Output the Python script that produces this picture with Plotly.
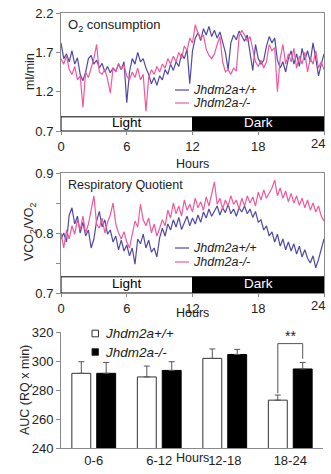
import plotly.graph_objects as go

W, H = 331, 474
FONT = "Liberation Sans, Arial, Helvetica, sans-serif"
TXT = "#222222"
AX = "#8a8a8a"
BLUE = "#5049a4"
PINK = "#ef5a9d"

# ---------------- data ----------------
hours = [i * 0.25 for i in range(97)]  # sampling grid, 0..24 h

o2_wt = [1.82, 1.62, 1.68, 1.58,
         1.72, 1.55, 1.63, 1.42,
         1.34, 1.45, 1.62, 1.66,
         1.55, 1.60, 1.50, 1.56,
         1.45, 1.52, 1.44, 1.50,
         1.46, 1.55, 1.48, 1.58,
         1.06, 1.45, 1.62, 1.55,
         1.70, 1.58, 1.62, 1.50,
         1.42, 1.30, 1.38, 1.28,
         1.40, 1.35, 1.48, 1.42,
         1.55, 1.47, 1.58, 1.52,
         1.68, 1.62, 1.74, 1.30,
         1.72, 1.88, 1.95, 1.85,
         2.00, 1.92, 2.03, 1.90,
         1.98, 1.88, 1.96, 1.84,
         1.70, 1.48, 1.82, 1.92,
         1.86, 1.97, 1.90, 1.84,
         1.92, 1.72, 1.47, 1.80,
         1.62, 1.55, 1.60, 1.78,
         1.90, 1.82, 1.88, 1.60,
         1.50, 1.58, 1.45, 1.62,
         1.72, 1.55, 1.68, 1.52,
         1.75, 1.60, 1.72, 1.58,
         1.82, 1.62, 1.40, 1.55,
         1.68]

o2_ko = [1.62, 1.55, 1.66, 1.48,
         1.42, 1.52, 1.35, 1.40,
         1.00, 1.45, 1.38, 1.50,
         1.62, 1.80, 1.45, 1.42,
         1.48, 1.36, 1.18, 1.50,
         1.45, 1.56, 1.48, 1.54,
         1.40, 1.35, 1.45, 1.38,
         1.50, 1.35, 1.42, 0.95,
         1.38, 1.48, 1.42, 1.52,
         1.45, 1.55, 1.50, 1.62,
         1.55, 1.65, 1.58, 1.70,
         1.62, 1.78, 1.72, 1.88,
         1.82, 2.05, 1.95, 1.88,
         1.92, 1.74, 1.66, 1.62,
         1.68, 1.80, 1.90, 1.58,
         1.45, 1.48, 1.42, 1.50,
         1.46, 1.90, 1.98, 1.92,
         1.84, 1.90, 1.75, 1.58,
         1.52, 1.60, 1.50, 1.58,
         1.80, 1.72, 1.76, 1.20,
         1.62, 1.80, 1.55, 1.68,
         1.58, 1.75, 1.50, 1.65,
         1.55, 1.70, 1.45, 1.62,
         1.55, 1.72, 1.50, 1.58,
         1.48]

rq_wt = [0.790, 0.800, 0.785, 0.830,
         0.842, 0.815, 0.828, 0.800,
         0.818, 0.795, 0.805, 0.775,
         0.790, 0.820, 0.836, 0.810,
         0.822, 0.798, 0.805, 0.785,
         0.795, 0.772, 0.788, 0.770,
         0.780, 0.762, 0.775, 0.748,
         0.790, 0.782, 0.798, 0.775,
         0.788, 0.768, 0.775, 0.760,
         0.792, 0.808, 0.795, 0.815,
         0.805, 0.822, 0.810, 0.826,
         0.806, 0.818, 0.828, 0.812,
         0.825, 0.815, 0.830, 0.818,
         0.835, 0.825, 0.840, 0.828,
         0.836, 0.845, 0.830, 0.842,
         0.834, 0.848, 0.832, 0.840,
         0.828, 0.842, 0.835, 0.845,
         0.832, 0.840, 0.826, 0.836,
         0.818, 0.822, 0.805, 0.812,
         0.795, 0.802, 0.785, 0.798,
         0.778, 0.790, 0.772, 0.785,
         0.770, 0.782, 0.765, 0.778,
         0.760, 0.772, 0.758, 0.750,
         0.762, 0.742, 0.756, 0.775,
         0.790]

rq_ko = [0.800, 0.775, 0.805, 0.790,
         0.812, 0.798, 0.822, 0.805,
         0.828, 0.800, 0.815, 0.840,
         0.862, 0.815, 0.808, 0.825,
         0.800, 0.818, 0.830, 0.850,
         0.815, 0.800, 0.790, 0.802,
         0.785, 0.775, 0.795, 0.820,
         0.810, 0.848, 0.822, 0.812,
         0.825, 0.800, 0.815, 0.795,
         0.808, 0.822, 0.812, 0.838,
         0.825, 0.850, 0.832, 0.845,
         0.828, 0.855, 0.838, 0.848,
         0.835, 0.858, 0.842, 0.852,
         0.838, 0.860, 0.845, 0.865,
         0.885, 0.848, 0.858, 0.840,
         0.855, 0.845, 0.862, 0.848,
         0.855, 0.840, 0.858, 0.845,
         0.862, 0.850, 0.860, 0.845,
         0.868, 0.855, 0.872, 0.858,
         0.866, 0.875, 0.888, 0.862,
         0.875, 0.858, 0.870, 0.852,
         0.866, 0.850, 0.862, 0.846,
         0.858, 0.842, 0.855, 0.838,
         0.850, 0.835, 0.845, 0.828,
         0.820]

auc_bins = ["0-6", "6-12", "12-18", "18-24"]
auc_wt = [291.5, 289.0, 301.8, 273.0]
auc_wt_err = [8.0, 7.5, 6.5, 3.5]
auc_ko = [291.5, 293.5, 304.5, 294.5]
auc_ko_err = [7.5, 6.0, 3.5, 4.5]

o2_ticks = [0.7, 1.2, 1.7, 2.2]
rq_ticks = [0.7, 0.8, 0.9]
auc_ticks = [240, 260, 280, 300, 320]
hour_ticks = [0, 6, 12, 18, 24]

WT_NAME = "Jhdm2a+/+"
KO_NAME = "Jhdm2a-/-"


# ---------------- helpers (pixel -> paper) ----------------
def px(x):
    return x / W


def py(y):
    return 1 - y / H


PLOT_X = [px(61), px(324)]

fig = go.Figure()

# line traces
fig.add_trace(go.Scatter(x=hours, y=o2_wt, mode="lines", line=dict(color=BLUE, width=1.2),
                         xaxis="x", yaxis="y", showlegend=False, name=WT_NAME))
fig.add_trace(go.Scatter(x=hours, y=o2_ko, mode="lines", line=dict(color=PINK, width=1.2),
                         xaxis="x", yaxis="y", showlegend=False, name=KO_NAME))
fig.add_trace(go.Scatter(x=hours, y=rq_wt, mode="lines", line=dict(color=BLUE, width=1.2),
                         xaxis="x2", yaxis="y2", showlegend=False, name=WT_NAME))
fig.add_trace(go.Scatter(x=hours, y=rq_ko, mode="lines", line=dict(color=PINK, width=1.2),
                         xaxis="x2", yaxis="y2", showlegend=False, name=KO_NAME))

# bars
BARGAP = 0.24
BARGROUPGAP = 0.24
fig.add_trace(go.Bar(x=auc_bins, y=auc_wt, name=WT_NAME, xaxis="x3", yaxis="y3",
                     marker=dict(color="white", line=dict(color="#333333", width=1)),
                     error_y=dict(type="data", symmetric=False, array=auc_wt_err,
                                  arrayminus=[0] * len(auc_wt), color="#555555",
                                  thickness=1, width=3),
                     showlegend=False))
fig.add_trace(go.Bar(x=auc_bins, y=auc_ko, name=KO_NAME, xaxis="x3", yaxis="y3",
                     marker=dict(color="black", line=dict(color="black", width=1)),
                     error_y=dict(type="data", symmetric=False, array=auc_ko_err,
                                  arrayminus=[0] * len(auc_ko), color="#555555",
                                  thickness=1, width=3),
                     showlegend=False))

tickfont = dict(family=FONT, size=13, color=TXT)
# the last hour label sits slightly inside the frame in the reference; drawn separately below
hour_text = [str(h) for h in hour_ticks[:-1]] + [""]
common_x = dict(range=[0, 24], tickmode="array", tickvals=hour_ticks,
                ticktext=hour_text, ticks="outside", ticklen=3,
                tickcolor=AX, showline=True, linecolor=AX, linewidth=1, mirror=True,
                showgrid=False, zeroline=False, tickfont=tickfont, automargin=False)

fig.update_layout(
    width=W, height=H,
    margin=dict(l=0, r=0, t=0, b=0, pad=0, autoexpand=False),
    paper_bgcolor="white", plot_bgcolor="white",
    bargap=BARGAP, bargroupgap=BARGROUPGAP, barmode="group",
    font=dict(family=FONT, color=TXT),
    xaxis=dict(domain=PLOT_X, anchor="y", **common_x),
    yaxis=dict(domain=[py(131), py(13)], anchor="x", range=[0.7, 2.2],
               tickmode="array", tickvals=o2_ticks, ticktext=[f"{v:.1f}" for v in o2_ticks],
               ticks="outside", ticklen=4, tickcolor=AX, showline=True, linecolor=AX,
               mirror=True, showgrid=False, zeroline=False, tickfont=tickfont,
               automargin=False),
    xaxis2=dict(domain=PLOT_X, anchor="y2", **common_x),
    yaxis2=dict(domain=[py(293), py(173)], anchor="x2", range=[0.7, 0.9],
                tickmode="array", tickvals=rq_ticks, ticktext=[f"{v:.1f}" for v in rq_ticks],
                ticks="outside", ticklen=4, tickcolor=AX, showline=True, linecolor=AX,
                mirror=True, showgrid=False, zeroline=False, tickfont=tickfont,
                automargin=False,
                minor=dict(tickmode="array", tickvals=[0.75, 0.85], ticks="outside",
                           ticklen=4, tickcolor=AX)),
    xaxis3=dict(domain=[px(61), px(323)], anchor="y3", type="category",
                showline=True, linecolor=AX, linewidth=1, ticks="", showgrid=False,
                tickfont=tickfont, automargin=False),
    yaxis3=dict(domain=[py(448), py(332)], anchor="x3", range=[240, 320],
                tickmode="array", tickvals=auc_ticks, ticktext=[str(v) for v in auc_ticks],
                ticks="outside", ticklen=4, tickcolor=AX, showline=True, linecolor=AX,
                showgrid=False, zeroline=False, tickfont=tickfont, automargin=False),
)

shapes = []
annos = []

# last hour tick label ("24") for both time panels
for yy in [143.5, 305.5]:
    annos.append(dict(xref="paper", yref="paper", x=px(317.5), y=py(yy), showarrow=False,
                      text=str(hour_ticks[-1]), xanchor="center", yanchor="middle",
                      font=tickfont))

# Light / Dark bars
for xr, yr, y0, y1 in [("x", "y", 0.7, 0.88), ("x2", "y2", 0.7, 0.727)]:
    shapes.append(dict(type="rect", xref=xr, yref=yr, x0=0, x1=12, y0=y0, y1=y1,
                       fillcolor="white", line=dict(color="black", width=1), layer="above"))
    shapes.append(dict(type="rect", xref=xr, yref=yr, x0=12, x1=24, y0=y0, y1=y1,
                       fillcolor="black", line=dict(color="black", width=1), layer="above"))
    annos.append(dict(xref=xr, yref=yr, x=6, y=(y0 + y1) / 2, text="Light", showarrow=False,
                      font=dict(size=13.5, color="black", family=FONT), yshift=1))
    annos.append(dict(xref=xr, yref=yr, x=18, y=(y0 + y1) / 2, text="Dark", showarrow=False,
                      font=dict(size=13.5, color="white", family=FONT), yshift=1))

# panel titles
annos.append(dict(xref="paper", yref="paper", x=px(66), y=py(25), xanchor="left",
                  yanchor="middle", showarrow=False, text="O<sub>2</sub> consumption",
                  font=dict(size=13, color=TXT, family=FONT)))
annos.append(dict(xref="paper", yref="paper", x=px(66), y=py(185), xanchor="left",
                  yanchor="middle", showarrow=False, text="Respiratory Quotient",
                  font=dict(size=12.5, color=TXT, family=FONT)))

# axis titles
for txt, xx, yy in [("ml/min", 30, 72), ("VCO<sub>2</sub>/VO<sub>2</sub>", 30, 232),
                    ("AUC (RQ x min)", 25, 390)]:
    annos.append(dict(xref="paper", yref="paper", x=px(xx), y=py(yy), textangle=-90,
                      showarrow=False, text=txt, xanchor="center", yanchor="middle",
                      font=dict(size=12.5, color=TXT, family=FONT)))
for yy in [155, 322]:
    annos.append(dict(xref="paper", yref="paper", x=px(192), y=py(yy), showarrow=False,
                      text="Hours", font=dict(size=12.5, color=TXT, family=FONT)))
annos.append(dict(xref="paper", yref="paper", x=px(192), y=py(467), showarrow=False,
                  text="Hours", font=dict(size=12.5, color=TXT, family=FONT)))

# line legends
for (ya, yb) in [(90, 103), (248, 262)]:
    for yy, col, name in [(ya, BLUE, WT_NAME), (yb, PINK, KO_NAME)]:
        shapes.append(dict(type="line", xref="paper", yref="paper", x0=px(175), x1=px(189),
                           y0=py(yy), y1=py(yy), line=dict(color=col, width=1.2)))
        annos.append(dict(xref="paper", yref="paper", x=px(191), y=py(yy), xanchor="left",
                          yanchor="middle", showarrow=False, text=f"<i>{name}</i>",
                          font=dict(size=12.5, color=TXT, family=FONT)))

# bar legend
for yy, fill, name in [(333.5, "white", WT_NAME), (352, "black", KO_NAME)]:
    shapes.append(dict(type="rect", xref="paper", yref="paper", x0=px(92), x1=px(98.5),
                       y0=py(yy + 3.3), y1=py(yy - 3.3), fillcolor=fill,
                       line=dict(color="#333333", width=1)))
    annos.append(dict(xref="paper", yref="paper", x=px(102.5), y=py(yy), xanchor="left",
                      yanchor="middle", showarrow=False, text=f"<i>{name}</i>",
                      font=dict(size=13.5, color=TXT, family=FONT)))

# significance bracket for 18-24
slot = (1 - BARGAP) / 2
k = auc_bins.index("18-24")
xl, xr_ = k - slot / 2, k + slot / 2
ytop = 312
ylo_l = auc_wt[k] + auc_wt_err[k] + 1.2
ylo_r = auc_ko[k] + auc_ko_err[k] + 2.5
for x0, y0, x1, y1 in [(xl, ylo_l, xl, ytop), (xl, ytop, xr_, ytop), (xr_, ytop, xr_, ylo_r)]:
    shapes.append(dict(type="line", xref="x3", yref="y3", x0=x0, x1=x1, y0=y0, y1=y1,
                       line=dict(color="#555555", width=1)))
annos.append(dict(xref="x3", yref="y3", x=k, y=ytop, yanchor="bottom", showarrow=False,
                  text="**", font=dict(size=14, color=TXT, family=FONT), yshift=-2))

fig.update_layout(shapes=shapes, annotations=annos)
# remove the browser's default page margin so the figure sits at the window's top-left corner
fig.write_html("out.html",
               config={"displayModeBar": False},
               post_script="document.body.style.margin='0';"
                           "document.body.style.overflow='hidden';")
